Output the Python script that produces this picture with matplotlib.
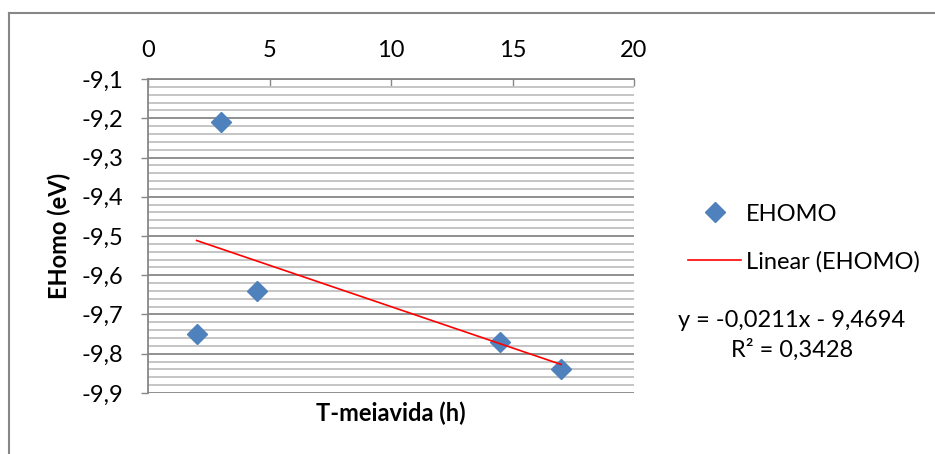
import numpy as np
import matplotlib
matplotlib.use("Agg")
import matplotlib.pyplot as plt
from matplotlib.lines import Line2D
from matplotlib.ticker import FuncFormatter, MultipleLocator

plt.rcParams['font.family'] = ['Lato', 'DejaVu Sans']

# data
t_half = [2, 3, 4.5, 14.5, 17]
ehomo = [-9.75, -9.21, -9.64, -9.77, -9.84]
x_ticks = [0, 5, 10, 15, 20]
y_ticks = [-9.1, -9.2, -9.3, -9.4, -9.5, -9.6, -9.7, -9.8, -9.9]

BLUE = '#4F81BD'
GRID_MAJ = '#878787'
GRID_MIN = '#c0c0c0'
FS = 17

# linear trendline, same as Excel's
slope, intercept = np.polyfit(t_half, ehomo, 1)
r2 = np.corrcoef(t_half, ehomo)[0, 1] ** 2
xt = np.array([min(t_half), max(t_half)])

fig = plt.figure(figsize=(9.35, 4.54), dpi=100)
ax = fig.add_axes([148 / 935, 1 - 393 / 454, (634 - 148) / 935, (393 - 79) / 454])

ax.set_xlim(0, 20)
ax.set_ylim(-9.9, -9.1)
ax.set_xticks(x_ticks)
ax.set_yticks(y_ticks)
ax.yaxis.set_minor_locator(MultipleLocator(0.02))
ax.yaxis.set_major_formatter(FuncFormatter(lambda v, p: f"{v:.1f}".replace('.', ',')))

ax.grid(axis='y', which='minor', color=GRID_MIN, lw=1.3)
ax.grid(axis='y', which='major', color=GRID_MAJ, lw=1.3)
ax.set_axisbelow(True)

ax.xaxis.tick_top()
ax.tick_params(axis='x', which='major', direction='in', length=5, width=1, color=GRID_MAJ,
               pad=13, labelsize=FS)
ax.tick_params(axis='y', which='major', direction='out', length=5, width=1, color=GRID_MAJ,
               pad=13, labelsize=FS)
ax.tick_params(axis='y', which='minor', length=0)

for side in ['right', 'bottom']:
    ax.spines[side].set_visible(False)
for side in ['top', 'left']:
    ax.spines[side].set_color(GRID_MAJ)
    ax.spines[side].set_linewidth(1.3)

ax.plot(t_half, ehomo, 'D', color=BLUE, ms=10, label='EHOMO', zorder=3, clip_on=False)
ax.plot(xt, slope * xt + intercept, color='#ff0000', lw=1.2, label='Linear (EHOMO)', zorder=4)

fig.text(59 / 935, 1 - 236 / 454, 'EHomo (eV)', fontsize=FS, fontweight='bold',
         rotation=90, ha='center', va='center')
fig.text(391 / 935, 1 - 413 / 454, 'T-meiavida (h)', fontsize=FS, fontweight='bold',
         ha='center', va='center')

h, l = ax.get_legend_handles_labels()
fig.legend(h, l, loc='center left', bbox_to_anchor=(688 / 935, 1 - 238 / 454), frameon=False,
           fontsize=FS, handlelength=2.25, handletextpad=0.2, labelspacing=1.1, borderpad=0,
           borderaxespad=0)

eq = f"y = {slope:.4f}x - {abs(intercept):.4f}".replace('.', ',')
r2_txt = f"R² = {r2:.4f}".replace('.', ',')
fig.text(792 / 935, 1 - 335 / 454, eq + "\n" + r2_txt, fontsize=FS, ha='center', va='center',
         linespacing=1.42)

# outer chart frame (only top/left edges are in view)
fig.add_artist(Line2D([9 / 935, 1.01], [1 - 13 / 454, 1 - 13 / 454], color=GRID_MAJ, lw=1.5,
                      transform=fig.transFigure))
fig.add_artist(Line2D([9 / 935, 9 / 935], [1 - 13 / 454, -0.01], color=GRID_MAJ, lw=1.5,
                      transform=fig.transFigure))

fig.savefig('out.png', dpi=100)
